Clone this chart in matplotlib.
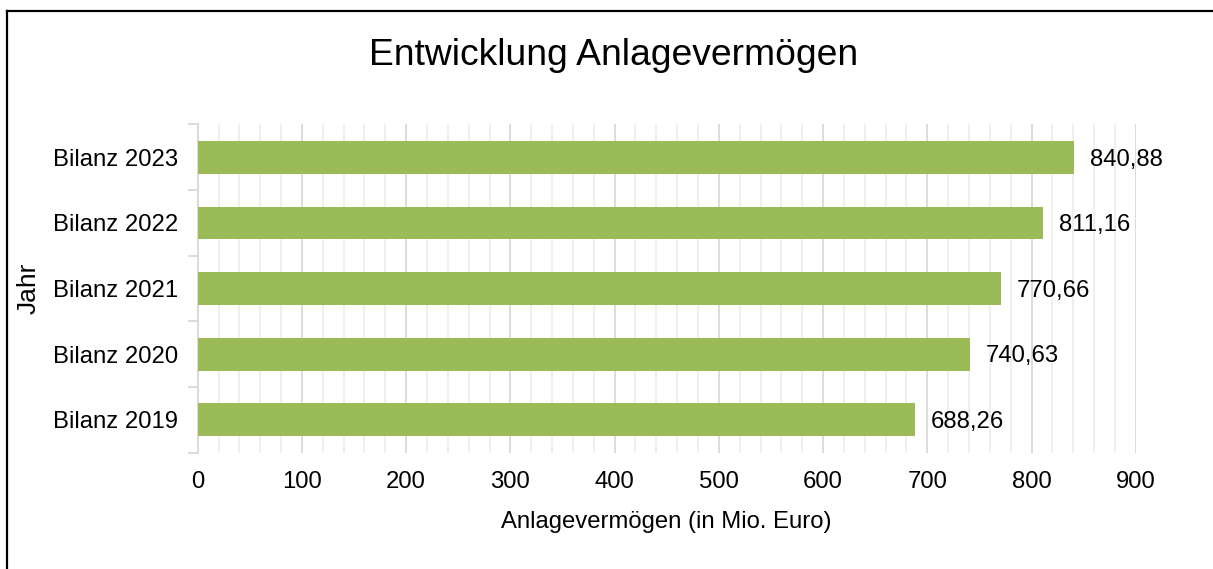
import matplotlib

matplotlib.use("Agg")
import matplotlib.pyplot as plt
from matplotlib.lines import Line2D
from matplotlib.ticker import MultipleLocator

plt.rcParams["font.family"] = ["Liberation Sans", "DejaVu Sans"]

# data (bottom to top)
years = ["Bilanz 2019", "Bilanz 2020", "Bilanz 2021", "Bilanz 2022", "Bilanz 2023"]
values = [688.26, 740.63, 770.66, 811.16, 840.88]
xticks = [0, 100, 200, 300, 400, 500, 600, 700, 800, 900]

BAR = "#9BBB59"
FS = 17.2

fig = plt.figure(figsize=(12.13, 5.69), dpi=100)
ax = fig.add_axes([0.163, 0.2047, 0.7733, 0.5765])

pos = list(range(len(years)))
ax.barh(pos, values, height=0.5, color=BAR, zorder=3)

# value labels right of each bar
for p, v in zip(pos, values):
    ax.text(v + 15, p - 0.035, f"{v:.2f}".replace(".", ","), va="center", ha="left",
            fontsize=FS, color="black")

ax.set_xlim(0, 900)
ax.set_ylim(-0.5, len(years) - 0.5)
ax.set_xticks(xticks)
ax.set_xticklabels([str(t) for t in xticks])
ax.xaxis.set_minor_locator(MultipleLocator(20))
ax.grid(axis="x", which="major", color="#d9d9d9", lw=1.3, zorder=0)
ax.grid(axis="x", which="minor", color="#eeeeee", lw=1.3, zorder=0)

# category labels centred, tick marks on category boundaries
ax.set_yticks(pos)
ax.set_yticklabels(years)
ax.set_yticks([p - 0.5 for p in pos] + [len(years) - 0.5], minor=True)
ax.tick_params(axis="y", which="major", length=0, pad=14, labelsize=FS)
ax.tick_params(axis="y", which="minor", length=7, width=1.3, color="#d9d9d9")
ax.tick_params(axis="x", which="both", length=0, pad=13, labelsize=FS)

for s in ("top", "right", "bottom"):
    ax.spines[s].set_visible(False)
ax.spines["left"].set_color("#d9d9d9")
ax.spines["left"].set_linewidth(1.3)

ax.set_xlabel("Anlagevermögen (in Mio. Euro)", fontsize=FS, labelpad=13)
ax.set_ylabel("Jahr", fontsize=19)
ax.yaxis.set_label_coords(-0.167, 0.5)

fig.text(0.506, 0.902, "Entwicklung Anlagevermögen", ha="center", va="center",
         fontsize=26.8)

# outer frame (only top and left edges visible)
fig.add_artist(Line2D([0.0058, 1.0], [0.981, 0.981], transform=fig.transFigure,
                      color="black", lw=1.6))
fig.add_artist(Line2D([0.0058, 0.0058], [0.0, 0.981], transform=fig.transFigure,
                      color="black", lw=1.6))

fig.savefig("out.png", dpi=100)
plt.close(fig)
